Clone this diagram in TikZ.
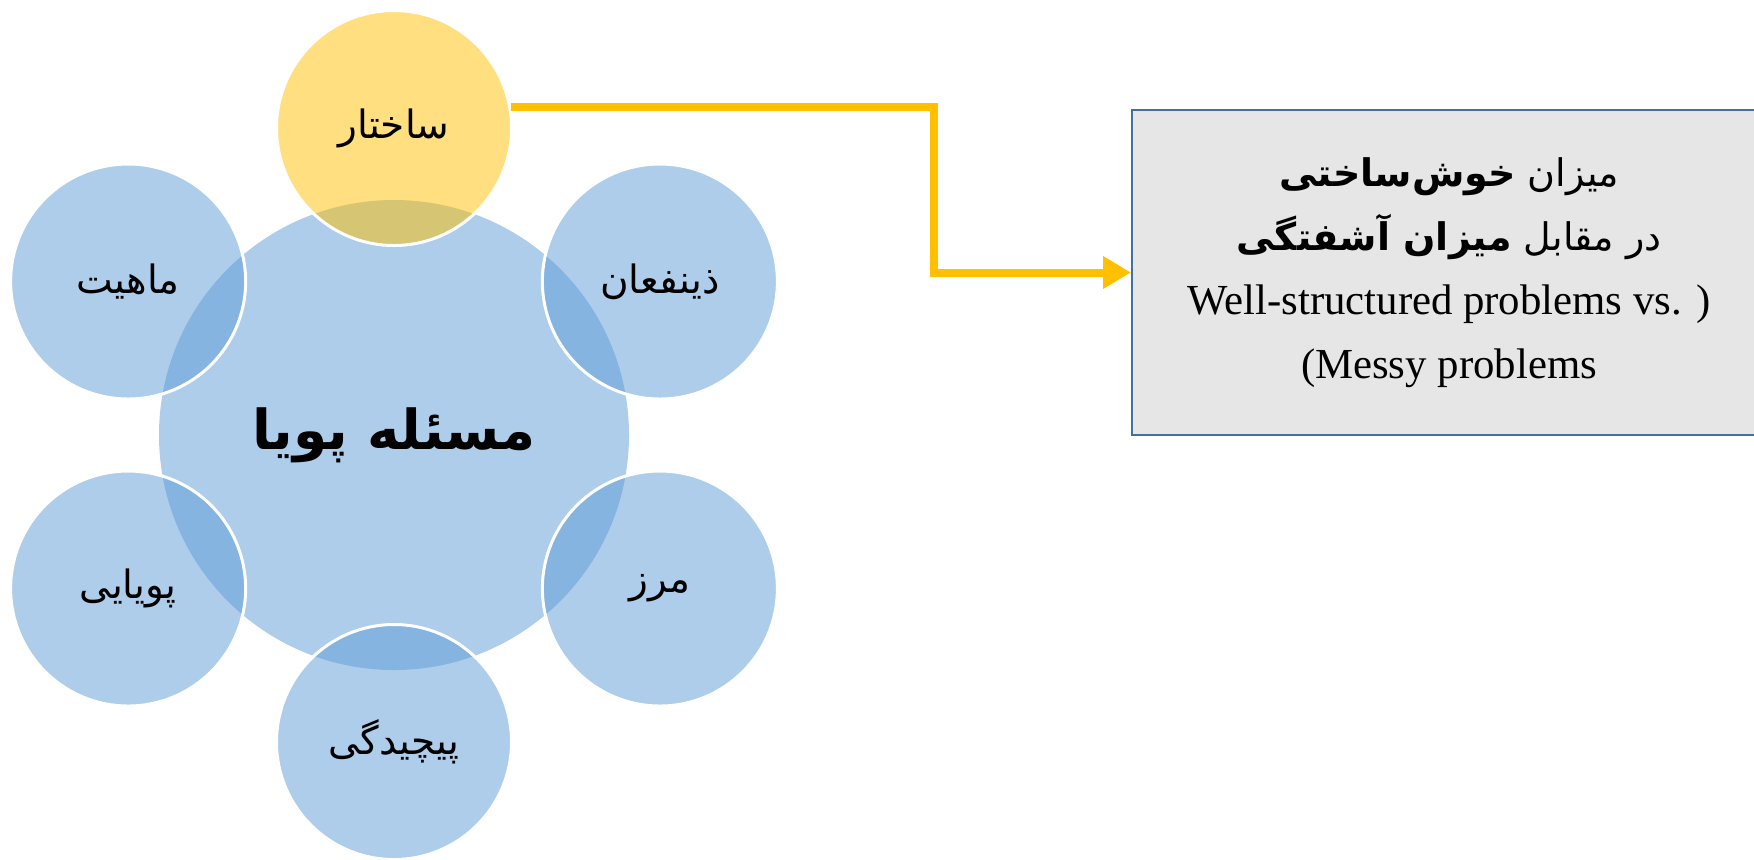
\documentclass[tikz,border=0pt]{standalone}
\usepackage{fontspec}
\setmainfont{Liberation Serif}
\newfontfamily\fa[Script=Arabic]{DejaVu Sans}
\TeXXeTstate=1
\usetikzlibrary{arrows.meta}
\definecolor{bubbleblue}{HTML}{5B9BD5}
\definecolor{accent}{HTML}{FFC000}
\definecolor{notefill}{HTML}{E6E6E6}
\definecolor{noteline}{HTML}{41719C}

\tikzset{
  core/.style={circle, inner sep=0pt, minimum size=235pt, fill=bubbleblue,
    fill opacity=0.5, text opacity=1,
    font=\fa\bfseries\fontsize{27.5}{32}\selectfont},
  bubble/.style={circle, inner sep=0pt, minimum size=117.5pt, fill=bubbleblue,
    fill opacity=0.5, text opacity=1, draw=white, line width=1.5pt,
    font=\fa\fontsize{19.5}{24}\selectfont},
  keybubble/.style={bubble, fill=accent},
  notebox/.style={rectangle, draw=noteline, line width=1pt, fill=notefill,
    minimum width=317pt, minimum height=162.5pt, align=center,
    font=\fontsize{21.4}{32}\selectfont},
  fatext/.style={font=\fa\fontsize{19}{32}\selectfont},
  link/.style={draw=accent, line width=4pt,
    -{Triangle[length=14pt,width=15.5pt]}}
}

\begin{document}
\begin{tikzpicture}[x=0.5pt,y=-0.5pt]
\useasboundingbox (0,0) rectangle (1754,859);

% central problem (y axis points down, so -90 is straight up)
\node[core] (hub) at (394,435) {\beginR مسئله پویا\endR};

% six aspects around it
\node[keybubble] (structure) at ([shift={(-90:307)}]hub.center) {\beginR ساختار\endR};
\node[bubble] (stake) at ([shift={(-30:307)}]hub.center) {\beginR ذینفعان\endR};
\node[bubble] (boundary) at ([shift={(30:307)}]hub.center) {\beginR مرز\endR};
\node[bubble] (complexity) at ([shift={(90:307)}]hub.center) {\beginR پیچیدگی\endR};
\node[bubble] (dynamics) at ([shift={(150:307)}]hub.center) {\beginR پویایی\endR};
\node[bubble] (nature) at ([shift={(-150:307)}]hub.center) {\beginR ماهیت\endR};

% explanatory box
\node[notebox] (note) at (1449,272.5)
  {{\fa\fontsize{19}{32}\selectfont\beginR میزان {\bfseries خوش‌ساختی}\endR}\\
   {\fa\fontsize{19}{32}\selectfont\beginR در مقابل {\bfseries میزان آشفتگی}\endR}\\
   Well-structured problems vs. )\\
   (Messy problems};

\coordinate (bend) at (934,0);
\draw[link] (structure.10) -- (structure.10 -| bend) |- (note.west);
\end{tikzpicture}
\end{document}
